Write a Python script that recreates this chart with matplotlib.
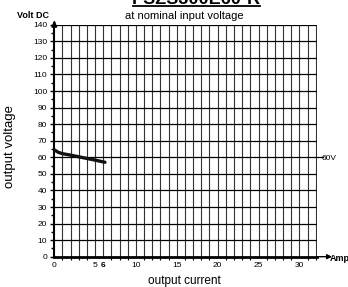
import numpy as np
import matplotlib
matplotlib.use("Agg")
import matplotlib.pyplot as plt

plt.rcParams['font.family'] = ['Liberation Sans', 'DejaVu Sans']

# data
current = [0, 0.5, 1, 2, 3, 4, 5, 6.2]
voltage = [64.5, 63.0, 62.2, 61.3, 60.3, 59.3, 58.3, 57.0]

x_ticks = [0, 5, 6, 10, 15, 20, 25, 30]
x_tick_labels = ['0', '5', '6', '10', '15', '20', '25', '30']
y_ticks = list(range(0, 150, 10))

title = "PSZS300E60-R"
subtitle = "at nominal input voltage"

fig = plt.figure(figsize=(3.48, 2.87), dpi=100)
ax = fig.add_axes([0.156, 0.1056, 0.9095 - 0.156, 0.9136 - 0.1056])
ax.set_xlim(0, 32.1)
ax.set_ylim(0, 140)

# grid: every 1 A and every 10 V
for xv in np.arange(1, 33, 1):
    ax.axvline(xv, color='#333333', lw=0.8, zorder=1)
for yv in y_ticks[1:]:
    ax.axhline(yv, color='black', lw=0.9, zorder=1)
ax.plot([32.1, 32.9], [60, 60], color='black', lw=0.9, clip_on=False)

ax.plot(current, voltage, color='#111111', lw=2.4, solid_capstyle='round', zorder=3)

for s in ['top', 'right']:
    ax.spines[s].set_visible(False)
ax.spines['left'].set_linewidth(1.5)
ax.spines['bottom'].set_linewidth(2.0)

# axis arrows
ax.annotate('', xy=(0, 1.03), xytext=(0, 0.99), xycoords='axes fraction',
            arrowprops=dict(arrowstyle='-|>', color='black', lw=1.5, mutation_scale=7))
ax.annotate('', xy=(1.07, 0), xytext=(0.99, 0), xycoords='axes fraction',
            arrowprops=dict(arrowstyle='-|>', color='black', lw=1.0, mutation_scale=7))

ax.set_yticks(y_ticks)
ax.set_yticks(np.arange(5, 140, 10), minor=True)
ax.set_yticklabels([str(v) for v in y_ticks], fontsize=6)
ax.tick_params(axis='y', which='major', length=3, width=1, pad=2)
ax.tick_params(axis='y', which='minor', length=2, width=1)

ax.set_xticks(np.arange(0, 33, 1), minor=True)
ax.set_xticks(x_ticks)
ax.set_xticklabels(x_tick_labels, fontsize=6)
ax.tick_params(axis='x', which='major', length=0, pad=4)
ax.tick_params(axis='x', which='minor', length=2.5, width=0.8)
for lab in ax.get_xticklabels():
    if lab.get_text() == '6':
        lab.set_fontweight('bold')
        lab.set_x(6.3)
    if lab.get_text() == '5':
        lab.set_x(4.8)

fig.text(0.03, 0.49, 'output voltage', fontsize=9.5, rotation=90,
         ha='center', va='center')
fig.text(0.53, 0.022, 'output current', fontsize=8.5, ha='center', va='center')

fig.text(0.925, 0.448, '60V', fontsize=6, va='center')
fig.text(0.948, 0.101, 'Amp', fontsize=6.5, fontweight='bold', va='center')
fig.text(0.049, 0.945, 'Volt DC', fontsize=6.5, fontweight='bold', va='center')
fig.text(0.53, 0.945, subtitle, fontsize=8, ha='center', va='center')
fig.text(0.564, 0.986, title, fontsize=13, fontweight='bold', ha='center',
         va='baseline')
fig.add_artist(plt.Line2D([0.382, 0.747], [0.979, 0.979], color='black', lw=1.3))

fig.savefig('out.png', dpi=100)
